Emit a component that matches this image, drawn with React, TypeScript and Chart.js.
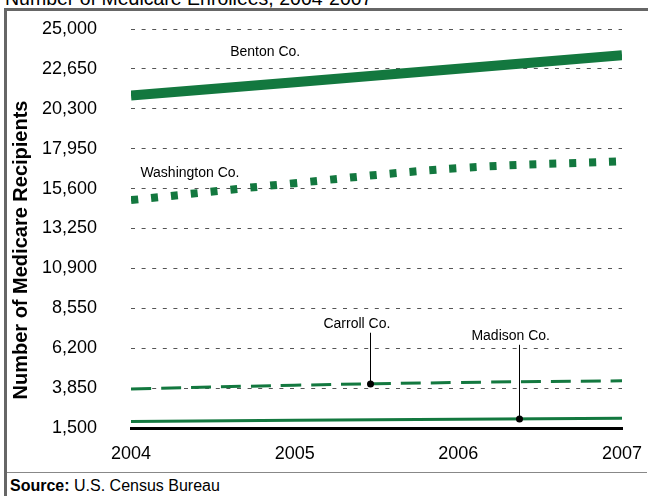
import React, { useEffect, useRef } from 'react';
import { Chart, registerables } from 'chart.js';

Chart.register(...registerables);

// ---- data ----
const years = [2004, 2005, 2006, 2007];
const benton = [21080, 21870, 22660, 23450];
const washington = [14920, 15920, 16800, 17210];
const carroll = [3800, 4020, 4180, 4280];
const madison = [1880, 1950, 2010, 2070];

const yMin = 1500;
const yMax = 25000;
const yStep = 2350;

const titleText = 'Number of Medicare Enrollees, 2004-2007';
const yTitle = 'Number of Medicare Recipients';

// label annotations, in data coordinates
const seriesLabels = [
  { text: 'Benton Co.', x: 2004.82, y: 23620 },
  { text: 'Washington Co.', x: 2004.36, y: 16490 },
];
const leaderLabels = [
  { text: 'Carroll Co.', labelX: 2005.38, labelY: 7640, x: 2005.46, lineTop: 7110, series: carroll },
  { text: 'Madison Co.', labelX: 2006.32, labelY: 6930, x: 2006.37, lineTop: 6400, series: madison },
];

const GREEN = '#13783f';
const FONT = '"Liberation Sans", Arial, Helvetica, sans-serif';

function pts(vals: number[]) {
  return vals.map((v, i) => ({ x: years[i], y: v }));
}

function interp(series: number[], x: number) {
  const i = Math.min(Math.floor(x - years[0]), years.length - 2);
  const t = x - years[i];
  return series[i] + (series[i + 1] - series[i]) * t;
}

const annotationPlugin = {
  id: 'annots',
  afterDatasetsDraw(chart: any) {
    const { ctx, scales } = chart;
    const xs = scales.x;
    const ys = scales.y;
    ctx.save();
    ctx.fillStyle = '#000';
    ctx.textAlign = 'center';
    ctx.textBaseline = 'middle';
    ctx.font = `14px ${FONT}`;
    seriesLabels.forEach((l) => {
      ctx.fillText(l.text, xs.getPixelForValue(l.x), ys.getPixelForValue(l.y));
    });
    leaderLabels.forEach((l) => {
      ctx.fillText(l.text, xs.getPixelForValue(l.labelX), ys.getPixelForValue(l.labelY));
      const px = Math.round(xs.getPixelForValue(l.x)) + 0.5;
      const dotY = ys.getPixelForValue(interp(l.series, l.x));
      ctx.strokeStyle = '#000';
      ctx.lineWidth = 1;
      ctx.beginPath();
      ctx.moveTo(px, ys.getPixelForValue(l.lineTop));
      ctx.lineTo(px, dotY);
      ctx.stroke();
      ctx.beginPath();
      ctx.arc(px, dotY, 3.5, 0, Math.PI * 2);
      ctx.fill();
    });
    // y axis title
    ctx.font = `bold 20px ${FONT}`;
    ctx.translate(21, 250);
    ctx.rotate(-Math.PI / 2);
    ctx.fillText(yTitle, 0, 0);
    ctx.restore();
  },
};

export default function App() {
  const ref = useRef<HTMLCanvasElement>(null);
  useEffect(() => {
    if (!ref.current) return;
    const chart = new Chart(ref.current, {
      type: 'line',
      data: {
        datasets: [
          { label: 'Benton Co.', data: pts(benton), borderColor: GREEN, borderWidth: 10, pointRadius: 0, borderCapStyle: 'butt' },
          { label: 'Washington Co.', data: pts(washington), borderColor: GREEN, borderWidth: 8, borderDash: [7, 13], pointRadius: 0, tension: 0.4 },
          { label: 'Carroll Co.', data: pts(carroll), borderColor: GREEN, borderWidth: 3, borderDash: [20, 10], pointRadius: 0, tension: 0.4 },
          { label: 'Madison Co.', data: pts(madison), borderColor: GREEN, borderWidth: 3, pointRadius: 0 },
        ],
      },
      options: {
        animation: false,
        responsive: false,
        events: [],
        layout: { padding: { top: 29, right: 26, left: 0, bottom: 0 } },
        plugins: { legend: { display: false }, tooltip: { enabled: false }, title: { display: false } },
        scales: {
          x: {
            type: 'linear',
            min: 2004,
            max: 2007,
            grid: { display: false, drawTicks: false },
            border: { display: true, color: '#000', width: 3 },
            ticks: {
              stepSize: 1,
              color: '#000',
              padding: 15,
              font: { family: FONT, size: 18 },
              callback: (v: any) => String(v),
              maxRotation: 0,
            },
            afterFit: (s: any) => { s.height = 68; s.paddingLeft = 0; s.paddingRight = 0; },
          },
          y: {
            min: yMin,
            max: yMax,
            grid: {
              drawTicks: false,
              color: (c: any) => (c.tick && c.tick.value === yMin ? 'rgba(0,0,0,0)' : '#555'),
              lineWidth: 1,
            },
            border: { display: false, dash: [4, 6.6] },
            ticks: {
              stepSize: yStep,
              color: '#000',
              padding: 34,
              font: { family: FONT, size: 18 },
              callback: (v: any) => Number(v).toLocaleString('en-US'),
            },
            afterFit: (s: any) => { s.width = 131; s.paddingTop = 0; s.paddingBottom = 0; },
          },
        },
      },
      plugins: [annotationPlugin],
    } as any);
    return () => chart.destroy();
  }, []);

  return (
    <div style={{ position: 'fixed', left: 0, top: 0, width: 648, height: 496, background: '#fff', overflow: 'hidden', fontFamily: FONT }}>
      <div style={{ position: 'absolute', left: 5, top: -12, fontSize: 19.5, color: '#000', whiteSpace: 'nowrap', lineHeight: '20px' }}>{titleText}</div>
      <div style={{ position: 'absolute', left: 4, top: 8, width: 700, height: 600, borderLeft: '3px solid #666', borderTop: '3px solid #666' }} />
      <div style={{ position: 'absolute', left: 7, top: 472, width: 640, height: 1, background: '#888' }} />
      <div style={{ position: 'absolute', left: 10, top: 477, fontSize: 16, color: '#000', whiteSpace: 'nowrap', lineHeight: '17px' }}>
        <b>Source:</b> U.S. Census Bureau
      </div>
      <canvas ref={ref} width={648} height={496} style={{ position: 'absolute', left: 0, top: 0, width: 648, height: 496 }} />
    </div>
  );
}
